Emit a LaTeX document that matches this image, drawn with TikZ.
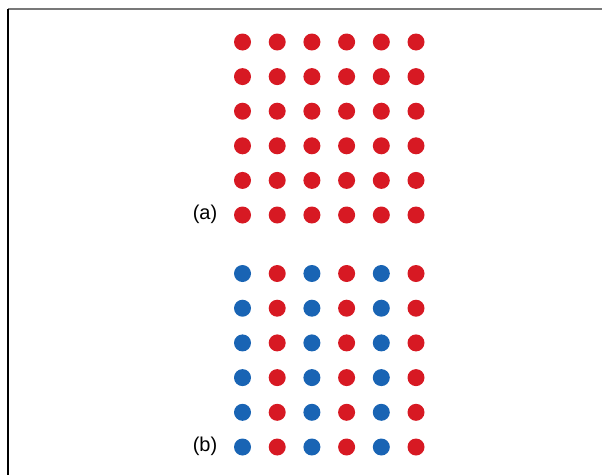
\documentclass[tikz,border=0pt]{standalone}
\usepackage{fontspec}
\setmainfont{Liberation Sans}
\definecolor{dotred}{RGB}{215,25,35}
\definecolor{dotblue}{RGB}{25,100,180}
\definecolor{framegray}{RGB}{120,120,120}
\begin{document}
\begin{tikzpicture}[x=0.75pt,y=-0.75pt,
  dot/.style={circle,inner sep=0pt,minimum size=12.75pt},
  reddot/.style={dot,fill=dotred},
  bluedot/.style={dot,fill=dotblue},
  lab/.style={font=\fontsize{15}{18}\selectfont,inner sep=0pt}]
\useasboundingbox (0,0) rectangle (602,475);
\draw[framegray,line width=1.2pt] (8,9) -- (602,9);
\draw[black,line width=1.1pt] (8,9) -- (8,475);
% (a)
\foreach \c/\x in {1/242.5,2/277.2,3/311.9,4/346.6,5/381.3,6/416}{
  \foreach \r/\y in {1/42,2/76.6,3/111.2,4/145.8,5/180.4,6/215}{
    \node[reddot] (a\r\c) at (\x,\y) {};
  }
}
% (b)
\foreach \c/\x/\s in {1/242.5/bluedot,2/277.2/reddot,3/311.9/bluedot,4/346.6/reddot,5/381.3/bluedot,6/416/reddot}{
  \foreach \r/\y in {1/273.5,2/308.2,3/342.9,4/377.6,5/412.3,6/447}{
    \node[\s] (b\r\c) at (\x,\y) {};
  }
}
\node[lab] (la) at (205,214) {(a)};
\node[lab] (lb) at (205,446) {(b)};
\end{tikzpicture}
\end{document}
